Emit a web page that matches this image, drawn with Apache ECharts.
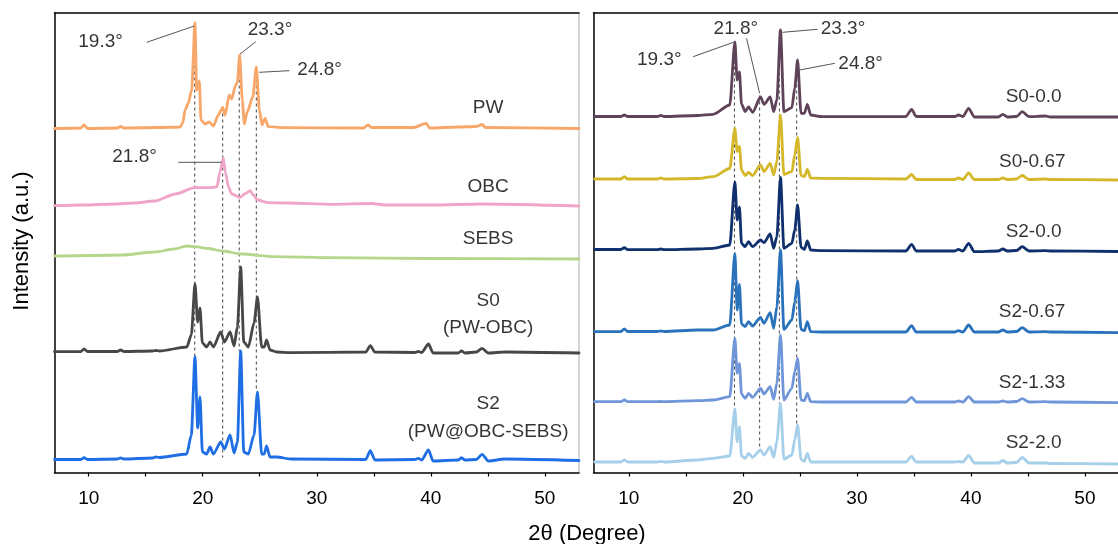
<!DOCTYPE html>
<html><head><meta charset="utf-8">
<script src="https://cdn.jsdelivr.net/npm/echarts@6/dist/echarts.min.js"></script>
<style>html,body{margin:0;padding:0;background:#fff}#c{width:1118px;height:544px}</style>
</head><body><div id="c"></div>
<script>
// ---------- DATA (2θ in degrees, intensity in a.u. relative to each curve's baseline) ----------
const PW_X = [7, 9.3, 9.6, 9.9, 12.5, 12.8, 13.1, 16, 18.0, 18.25, 18.45, 18.74, 19.03, 19.32, 19.47, 19.7, 19.85, 20.2, 20.58, 20.93, 21.37, 21.75, 21.96, 22.33, 22.54, 22.86, 23.04, 23.24, 23.47, 23.65, 23.9, 24.39, 24.7, 24.97, 25.2, 25.47, 25.75, 27.07, 34.1, 34.5, 34.8, 38.5, 39.6, 39.9, 42.4, 44.0, 44.5, 44.8, 53];
const PW_I = [-0.5, 0, 3, -0.5, 0, 1.5, 0, 0.5, 1, 5, 18, 25, 38, 105, 38, 47, 8, 4, 6, 2, 13, 20.7, 13, 33, 29, 42, 46, 73, 28, 4, 16, 31, 61, 18, 3, 9.7, 1.3, 0.3, 0, 3, 0.5, 0.5, 4.7, 0, 1, 1.5, 3.5, 0.5, -0.5];

const OBC_X = [7, 9.5, 12.3, 14, 15.8, 17.6, 19.3, 20.8, 21.25, 21.52, 21.8, 22.0, 22.25, 22.54, 23.27, 23.77, 24.15, 24.44, 24.82, 25.75, 27.5, 31.3, 34.8, 36, 40, 44.5, 53];
const OBC_I = [-0.7, 0, 1, 2, 4, 11, 17.3, 17.3, 18.3, 33.3, 47, 32, 18.3, 11, 7.7, 11.7, 14.3, 10, 5, 2.3, 2, 0.7, 1.5, 0, 0, 1, -1];

const SEBS_X = [7, 10, 12.9, 15.8, 17.5, 18.6, 19.3, 20.5, 21.7, 23.4, 26.3, 31.3, 40, 53];
const SEBS_I = [1, 1.5, 2, 5, 8, 11, 10.3, 8.5, 6, 3, 0.3, -0.7, -1.5, -2];

const S_X = [7, 9.3, 9.6, 9.9, 12.5, 12.8, 13.1, 15.6, 15.9, 16.2, 18.6, 19.0, 19.32, 19.56, 19.76, 19.97, 20.35, 20.64, 20.93, 21.58, 21.9, 22.4, 22.75, 23.04, 23.33, 23.6, 24.0, 24.5, 24.8, 25.17, 25.4, 25.6, 25.9, 26.5, 27.7, 34.3, 34.7, 35.1, 38.6, 38.9, 39.2, 39.8, 40.2, 42.4, 42.7, 43.0, 44.0, 44.5, 45.05, 46.5, 53];
const S0_I = [0.3, 0.5, 3, 0.5, 0.5, 2, 0.5, 1, 1.5, 1, 5, 17, 68, 30, 44, 9, 5, 10, 5, 20, 10, 20, 6, 25, 85, 10, 5, 29, 55, 5, 5, 12, 2, 0, -0.7, 0, 6.3, 0, -0.5, 0.5, -0.5, 8, -1, -1, 1, -1, 0, 3.7, -1, 0, -1];
const S2_I = [0.5, 0.5, 2.3, 0.5, 1, 2, 1, 2, 3, 2.5, 6, 25, 103, 32, 63, 8, 6, 13, 6, 18, 11, 25, 7, 18, 109, 8, 6, 25, 68, 6, 6, 14, 3, 3, 1, 0.5, 9.3, 0, 0.5, 1.7, 0, 10, -1, 0, 2.3, 0, 0.5, 5.7, -1, 1, -0.5];

const R_X = [7, 9.3, 9.6, 9.9, 12.5, 12.8, 13.1, 16, 17.4, 18.85, 19.3, 19.5, 19.7, 19.88, 20.2, 20.5, 20.85, 21.55, 21.85, 22.4, 22.7, 22.98, 23.3, 23.6, 24.3, 24.55, 24.8, 25.1, 25.4, 25.65, 25.95, 26.9, 34.3, 34.8, 35.2, 38.6, 38.9, 39.3, 39.8, 40.3, 42.4, 42.8, 43.2, 44.0, 44.5, 45.1, 46.5, 47, 53];
const S0_00_I = [0.5, 0.5, 2, 0.5, 0.5, 1.5, 0.5, 1.5, 2.7, 12, 75, 37, 45, 13, 5.5, 10, 4.7, 20, 12.7, 20, 5.3, 17, 87, 5.3, 9.3, 29, 57, 3.7, 3.7, 12.7, 2, 0.3, 0.5, 7.7, 0.5, 0.5, 2, 0.5, 8.7, 0, 0, 2.7, 0, 0.5, 5.3, 0.3, 1, 0, 0];
const S0_067_I = [0.5, 0.5, 2.8, 0.5, 0.5, 1.5, 0.5, 1, 2.8, 11, 51, 28, 33, 9.5, 4, 7, 4, 14.5, 8, 16, 4.5, 18, 64.5, 5, 8, 24.5, 42, 4, 3, 10, 1.5, 1.2, 0.5, 5, 0, 0, 1.5, 0, 6.5, 0, 0, 1.5, 0, 0.5, 4, 0, 0.5, 0, -0.5];
const S2_00_I = [1.5, 1.5, 3.3, 1.3, 1.3, 2, 1.3, 2, 2.7, 6, 69, 31, 44, 7.7, 4.3, 9.3, 4.3, 11, 8.3, 17, 2.7, 14.3, 73.7, 2.7, 7.7, 21, 46, 3.7, 1.7, 10, 1, 0.3, 0, 6.7, 0, 0, 1.7, 0, 7.7, -0.7, 0, 2, 0, 0.5, 4.3, 0, 0.3, 0, -0.5];
const S2_067_I = [0.3, 0.5, 3, 0.5, 0.5, 1, 0.5, 2, 2, 7, 78.7, 22, 47.7, 8, 5.3, 10.3, 6, 14.7, 8.7, 19.3, 3.7, 25.3, 82, 2.7, 12, 30, 51.3, 2.7, 1.3, 10.3, 0.3, 0, 0, 6.3, 0, 0, 1.3, 0, 7, 0, 0, 2, 0, 0.5, 4.3, 0, 0.3, 0, -0.7];
const S2_133_I = [0.3, 0.3, 2, 0.3, 0.3, 0.5, 0.3, 1.3, 2, 5.3, 63.7, 28.7, 38.7, 8, 3.7, 8.7, 4.7, 13.7, 8, 15.3, 2.7, 18.7, 67, 2, 13.7, 30, 43.7, 2, 1.3, 8.7, 0.3, 0, 0, 4.7, 0, 0, 1, 0, 5.3, 0, 0, 1, 0, 0.5, 3.3, 0, 0.3, 0, -0.7];
const S2_20_I = [0, 0, 2, 0, 0, 0.5, 0, 2, 3.7, 6, 53, 20, 35, 6, 3.7, 8.7, 4.7, 12, 7, 15.3, 4.7, 20.3, 58.7, 3, 7, 22, 37, 2.7, 0.7, 8.7, 0, 0, 0, 5.5, 0, 0, 0.5, 0, 6.5, -1, -1, 1.5, -1, -0.5, 4.5, -1, -1, -1.5, -2];

// vertical offsets of the stacked patterns (a.u.)
const LEFT_NAMES = ['PW', 'OBC', 'SEBS', 'S0', 'S2'];
const LEFT_OFFSETS = [344.5, 267.5, 215.5, 120.5, 12.5];
const RIGHT_NAMES = ['S0-0.0', 'S0-0.67', 'S2-0.0', 'S2-0.67', 'S2-1.33', 'S2-2.0'];
const RIGHT_OFFSETS = [355.5, 293, 221.5, 140.5, 70.5, 10.5];

// peak positions marked with dashed guide lines
const LEFT_PEAKS = [19.3, 21.75, 23.2, 24.7];
const RIGHT_PEAKS = [19.26, 21.47, 23.2, 24.72];
const X_TICKS = [10, 15, 20, 25, 30, 35, 40, 45, 50];
const X_LABELS = [10, 20, 30, 40, 50];

// ---------- LAYOUT (annotation anchors in data coordinates) ----------
const LEFT_GUIDE_SPAN = [[449, 115], [365, 15], [417, 121], [405, 81]];
const RIGHT_GUIDE_SPAN = [[430, 64], [377, 22], [442, 69], [412, 47]];
const LEFT_ANN = [
  {t: '19.3°', at: [11.04, 430.5], from: [15.09, 430.2], to: [19.26, 446.5]},
  {t: '21.8°', at: [14.02, 315.5], from: [17.86, 310.2], to: [21.67, 310.2]},
  {t: '23.3°', at: [25.9, 442.5], from: [24.65, 430.8], to: [23.27, 418.5]},
  {t: '24.8°', at: [30.25, 402.5], from: [27.6, 401.8], to: [24.96, 400.2]}
];
const RIGHT_ANN = [
  {t: '19.3°', at: [12.67, 412.5], from: [15.64, 415.8], to: [19.32, 430.8]},
  {t: '21.8°', at: [19.39, 443.5], from: [20.32, 434.2], to: [21.47, 379.2]},
  {t: '23.3°', at: [28.78, 443.5], from: [26.56, 443.2], to: [23.48, 440.2]},
  {t: '24.8°', at: [30.33, 408.5], from: [28.07, 409.2], to: [24.97, 402.5]}
];
const LEFT_TAGS = [['PW', 45.03, 364.5], ['OBC', 45.03, 285.5], ['SEBS', 45.03, 233.5], ['S0', 45.03, 171.5], ['(PW-OBC)', 45.03, 144.5], ['S2', 45.03, 68.5], ['(PW@OBC-SEBS)', 45.03, 40.5]];
const RIGHT_TAGS = [['S0-0.0', 45.5, 375.5], ['S0-0.67', 45.38, 310.5], ['S2-0.0', 45.5, 240.8], ['S2-0.67', 45.36, 160.8], ['S2-1.33', 45.36, 89.8], ['S2-2.0', 45.5, 29.8]];

const LEFT_COLORS = ['#F8A76A', '#F0A4C8', '#B6D68C', '#474747', '#1F6EE3'];
const RIGHT_COLORS = ['#5F4459', '#D5B82A', '#0F2F6D', '#2A73BC', '#7096DA', '#A6CFEA'];
const FONT = 'Liberation Sans, Arial, sans-serif';

const leftData = [[PW_X, PW_I], [OBC_X, OBC_I], [SEBS_X, SEBS_I], [S_X, S0_I], [S_X, S2_I]];
const rightData = [S0_00_I, S0_067_I, S2_00_I, S2_067_I, S2_133_I, S2_20_I].map(I => [R_X, I]);

const series = [];
function guide(grid, x, span) {
  series.push({type: 'line', xAxisIndex: grid, yAxisIndex: grid, data: [[x, span[0]], [x, span[1]]],
    symbol: 'none', silent: true, z: 1, lineStyle: {color: '#444', width: 1, type: [3, 3]}});
}
LEFT_PEAKS.forEach((p, i) => guide(0, p, LEFT_GUIDE_SPAN[i]));
RIGHT_PEAKS.forEach((p, i) => guide(1, p, RIGHT_GUIDE_SPAN[i]));

function curve(grid, name, xy, off, color) {
  series.push({type: 'line', name, xAxisIndex: grid, yAxisIndex: grid, z: 3,
    data: xy[0].map((x, k) => [x, off + xy[1][k]]), symbol: 'none', silent: true,
    smooth: 0.25, smoothMonotone: 'x',
    lineStyle: {color, width: 2.8, cap: 'round', join: 'round'}});
}
LEFT_NAMES.forEach((n, i) => curve(0, n, leftData[i], LEFT_OFFSETS[i], LEFT_COLORS[i]));
RIGHT_NAMES.forEach((n, i) => curve(1, n, rightData[i], RIGHT_OFFSETS[i], RIGHT_COLORS[i]));

function ann(grid, list) {
  list.forEach(a => series.push({type: 'line', xAxisIndex: grid, yAxisIndex: grid, data: [a.from, a.to],
    symbol: 'none', silent: true, z: 4, lineStyle: {color: '#555', width: 1}}));
  series.push({type: 'scatter', xAxisIndex: grid, yAxisIndex: grid, symbolSize: 1, silent: true, z: 5,
    itemStyle: {color: 'rgba(0,0,0,0)'},
    data: list.map(a => ({name: a.t, value: a.at})),
    label: {show: true, position: 'inside', formatter: '{b}', color: '#000', fontSize: 19, fontFamily: FONT}});
}
ann(0, LEFT_ANN); ann(1, RIGHT_ANN);
function tags(grid, list) {
  series.push({type: 'scatter', xAxisIndex: grid, yAxisIndex: grid, symbolSize: 1, silent: true, z: 5,
    itemStyle: {color: 'rgba(0,0,0,0)'},
    data: list.map(t => ({name: t[0], value: [t[1], t[2]]})),
    label: {show: true, position: 'inside', formatter: '{b}', color: '#000', fontSize: 19, fontFamily: FONT}});
}
tags(0, LEFT_TAGS); tags(1, RIGHT_TAGS);

function xAxis(grid, min, max) {
  return {type: 'value', gridIndex: grid, min, max,
    axisLine: {show: true, lineStyle: {color: '#000', width: 1.5}},
    axisTick: {show: true, inside: false, length: 4, customValues: X_TICKS, lineStyle: {color: '#000', width: 1.2}},
    axisLabel: {show: true, customValues: X_LABELS, margin: 17, color: '#000', fontSize: 19, fontFamily: FONT},
    splitLine: {show: false}};
}
function topAxis(grid, min, max) {
  return {type: 'value', gridIndex: grid, min, max, position: 'top',
    axisLine: {show: true, onZero: false, lineStyle: {color: '#000', width: 1.5}},
    axisTick: {show: false}, axisLabel: {show: false}, splitLine: {show: false}};
}
function yAxis(grid, pos, color) {
  return {type: 'value', gridIndex: grid, min: 0, max: 459.5, position: pos,
    axisLine: {show: true, onZero: false, lineStyle: {color, width: 1.5}},
    axisTick: {show: false}, axisLabel: {show: false}, splitLine: {show: false}};
}

const chart = echarts.init(document.getElementById('c'), null, {renderer: 'canvas'});
chart.setOption({
  animation: false,
  backgroundColor: '#fff',
  grid: [
    {left: 54.5, top: 13, width: 524.5, height: 459.5},
    {left: 593.5, top: 13, width: 534, height: 459.5}
  ],
  xAxis: [xAxis(0, 7, 53), xAxis(1, 6.9, 52.9), topAxis(0, 7, 53), topAxis(1, 6.9, 52.9)],
  yAxis: [yAxis(0, 'left', '#000'), yAxis(1, 'left', '#000'), yAxis(0, 'right', '#c8c8c8')],
  series,
  graphic: [
    {type: 'text', x: 22, y: 241, rotation: Math.PI / 2, silent: true,
      style: {text: 'Intensity (a.u.)', fill: '#000', font: '22px ' + FONT, textAlign: 'center', textVerticalAlign: 'middle'}},
    {type: 'text', x: 587, y: 534, silent: true,
      style: {text: '2θ (Degree)', fill: '#000', font: '22px ' + FONT, textAlign: 'center', textVerticalAlign: 'middle'}}
  ]
});
</script></body></html>
